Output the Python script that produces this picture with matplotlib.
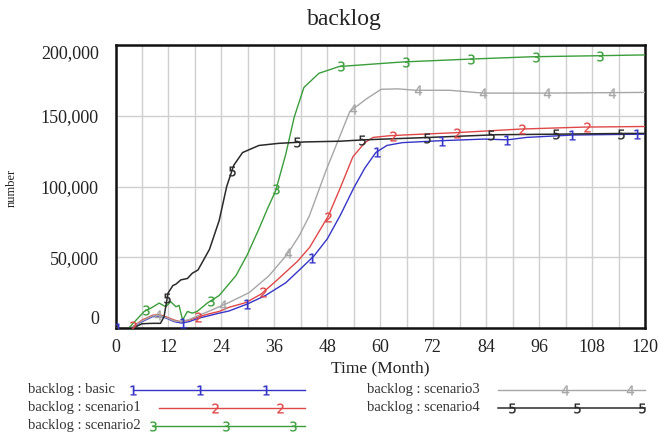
import numpy as np
import matplotlib
matplotlib.use("Agg")
import matplotlib.pyplot as plt
from matplotlib.ticker import MultipleLocator, FuncFormatter
from matplotlib.lines import Line2D

plt.rcParams["font.family"] = ["Liberation Serif", "DejaVu Serif"]

# ---------------- data ----------------
title = "backlog"
x_label = "Time (Month)"
y_label = "number"
series_names = ["backlog : basic", "backlog : scenario1", "backlog : scenario2",
                "backlog : scenario3", "backlog : scenario4"]
marker_labels = ["1", "2", "3", "4", "5"]
x_ticks = [0, 12, 24, 36, 48, 60, 72, 84, 96, 108, 120]
y_ticks = [0, 50000, 100000, 150000, 200000]

basic_t = [0, 3.5, 6, 8.4, 10, 11.5, 13.3, 15, 16.7, 18.9, 21.2, 23.5, 25.7, 29.9, 34,
           38.6, 42, 45, 48, 51, 54, 56.5, 59, 61.5, 65, 73.9, 83.5, 88.9, 93.2, 103.8, 120]
basic_v = [0, 0, 4500, 8000, 8500, 7000, 4500, 3500, 4500, 7000, 8700, 10500, 12000, 17000, 23000,
           32000, 42000, 51000, 63000, 80000, 99000, 113000, 124000, 129000, 131000, 132400,
           133500, 133000, 134700, 136400, 137000]

s1_t = [0, 3.5, 6, 8.4, 9.9, 11.4, 13.3, 14.8, 16.7, 18.9, 21.2, 23.5, 25.7, 29.6, 33, 36.3,
        41.2, 44, 48.2, 50.8, 53.8, 56.5, 58.4, 62.2, 66, 76.9, 91.9, 106.3, 120]
s1_v = [0, 0, 5600, 9000, 9500, 8000, 5600, 4500, 5600, 8000, 10000, 11700, 14600, 18000, 24000,
        33000, 47000, 57000, 79000, 98000, 121000, 131000, 134700, 135900, 136500, 138000,
        140600, 142000, 142400]

s2_t = [0, 3, 4.2, 6.5, 8, 9.9, 11.4, 12.5, 13.7, 14.4, 15.2, 16.3, 17.4, 18.5, 20.8, 23.5,
        27.3, 29.9, 32.5, 34.4, 36.3, 38.6, 40.5, 42.7, 46.1, 50.7, 65, 80, 94.5, 108.9, 120]
s2_v = [0, 0, 4000, 11700, 14000, 17600, 15000, 18600, 15000, 16000, 5600, 11700, 10500, 11700,
        17600, 23000, 37000, 52000, 70000, 84000, 97000, 123000, 149000, 170000, 180000, 184800,
        188000, 190000, 191700, 192400, 193000]

s3_t = [0, 3.5, 6, 8.4, 9.9, 11.4, 13.3, 14.8, 16.7, 18.9, 21.3, 25.7, 30.3, 34.8, 38.9, 41.6,
        43.9, 47.8, 53.1, 56.9, 60.2, 64, 68.1, 75.7, 83.3, 97.3, 120]
s3_v = [0, 0, 5000, 8500, 9000, 7500, 5000, 4500, 6000, 9000, 12000, 18000, 25000, 37000, 52000,
        65000, 79000, 112000, 153000, 162000, 168700, 169000, 168000, 168000, 166000, 166000, 166500]

s4_t = [0, 4, 6, 8.4, 10.2, 11, 11.9, 13, 13.7, 14.8, 16.3, 17.4, 18.7, 21.3, 23.5, 25.2, 26.8,
        28.8, 32.5, 37, 43, 50.8, 56.5, 71.3, 86.5, 100.6, 116, 120]
s4_v = [0, 0, 3000, 3300, 3300, 8000, 24600, 30000, 31000, 34000, 35000, 38700, 41000, 55600,
        76000, 100000, 115000, 124000, 129000, 130500, 131500, 132000, 133000, 134700, 136600,
        137000, 137500, 137500]

series_t = [basic_t, s1_t, s2_t, s3_t, s4_t]
series_v = [basic_v, s1_v, s2_v, s3_v, s4_v]

# ---------------- style ----------------
colors = ["#3535c8", "#e04848", "#3a9e3a", "#a6a6a6", "#2a2a2a"]
widths = [1.0, 1.0, 1.0, 1.0, 1.1]
marker_offsets = [0.5, 4.0, 7.0, 9.7, 11.7]
marker_step = 14.7

W, H = 659, 434
fig = plt.figure(figsize=(W / 100, H / 100), dpi=100)
ax = fig.add_axes([115.5 / W, 1 - 328 / H, 529.5 / W, 283 / H])

for t, v, c, lw, lab, off in zip(series_t, series_v, colors, widths, marker_labels, marker_offsets):
    ax.plot(t, v, color=c, lw=lw, zorder=3, solid_joinstyle="round")
    tm = np.arange(off, 120.01, marker_step)
    vm = np.interp(tm, t, v)
    ax.plot(tm, vm, ls="none", marker="$%s$" % lab, ms=7, mew=0.2, color=c, zorder=4)

ax.set_xlim(0, 120)
ax.set_ylim(0, 200000)
ax.set_xticks(x_ticks)
ax.xaxis.set_minor_locator(MultipleLocator(6))
ax.set_yticks(y_ticks)
ax.yaxis.set_major_formatter(FuncFormatter(lambda v, p: "{:,.0f}".format(v)))
ax.grid(True, which="both", axis="x", color="#cfcfcf", lw=1.0, zorder=0)
ax.grid(True, which="major", axis="y", color="#cfcfcf", lw=1.0, zorder=0)
ax.tick_params(which="both", length=0)
ax.tick_params(axis="y", pad=12, labelsize=13, labelcolor="#222222")
ax.tick_params(axis="x", pad=8, labelsize=13, labelcolor="#222222")
for sp in ax.spines.values():
    sp.set_linewidth(1.8)
    sp.set_color("#111111")
ylabs = ax.get_yticklabels()
ylabs[-1].set_va("top")
ylabs[0].set_va("bottom")

ax.set_xlabel(x_label, fontsize=12.5, labelpad=3, color="#222222")
fig.text(12 / W, 1 - 188 / H, y_label, rotation=90, fontsize=9, va="center", ha="center", color="#222222")
fig.text(344 / W, 1 - 20 / H, title, fontsize=17, ha="center", va="center", color="#222222")

# ---------------- legend ----------------
def fx(x):
    return x / W

def fy(y):
    return 1 - y / H

legend_rows = [
    (28, 390, (133, 305), [133, 200, 266]),
    (28, 408, (159, 305), [215, 280]),
    (28, 426, (153, 305), [153, 226, 293]),
    (367, 390, (498, 645), [565, 630]),
    (367, 408, (498, 645), [512, 577, 642]),
]
for (tx, ty, (l0, l1), mks), name, c, lw, lab in zip(legend_rows, series_names, colors, widths, marker_labels):
    fig.text(fx(tx), fy(ty), name, fontsize=10.5, va="center", ha="left", color="#333333")
    fig.add_artist(Line2D([fx(l0), fx(l1)], [fy(ty), fy(ty)], transform=fig.transFigure, color=c, lw=lw))
    fig.add_artist(Line2D([fx(m) for m in mks], [fy(ty)] * len(mks), transform=fig.transFigure,
                          ls="none", marker="$%s$" % lab, ms=7, mew=0.2, color=c))

fig.savefig("out.png", dpi=100)
